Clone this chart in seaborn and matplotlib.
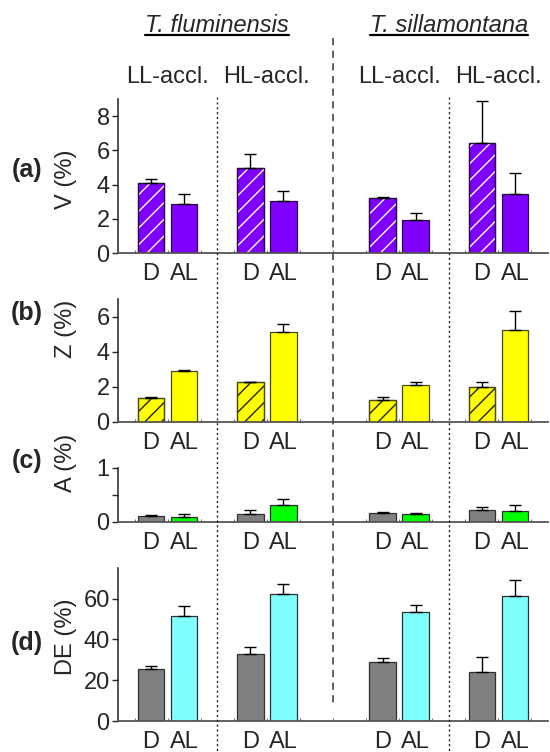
import matplotlib
matplotlib.use("Agg")
import matplotlib.pyplot as plt
from matplotlib.lines import Line2D
from matplotlib.patches import Rectangle
import seaborn as sns
import pandas as pd
import numpy as np

# -----------------------------
# Data
# -----------------------------
positions = [0, 1, 3, 4, 7, 8, 10, 11]
conditions = ["D", "AL", "D", "AL", "D", "AL", "D", "AL"]
species = ["T. fluminensis", "T. sillamontana"]
species_pos = [2, 9]
accl_labels = ["LL-accl.", "HL-accl.", "LL-accl.", "HL-accl."]
accl_pos = [0.5, 3.5, 7.5, 10.5]

v_vals = [4.12, 2.88, 4.94, 3.06, 3.22, 1.94, 6.41, 3.47]
v_errs = [0.23, 0.59, 0.82, 0.59, 0.06, 0.41, 2.47, 1.18]
z_vals = [1.39, 2.90, 2.27, 5.10, 1.26, 2.11, 1.98, 5.26]
z_errs = [0.01, 0.04, 0.02, 0.48, 0.15, 0.19, 0.32, 1.08]
a_vals = [0.107, 0.10, 0.157, 0.31, 0.163, 0.14, 0.22, 0.20]
a_errs = [0.02, 0.05, 0.06, 0.12, 0.03, 0.02, 0.06, 0.11]
de_vals = [25.7, 51.6, 32.6, 62.5, 28.9, 53.4, 23.8, 61.1]
de_errs = [1.2, 5.0, 3.6, 4.5, 2.2, 3.5, 7.7, 8.2]

sns.set_style("ticks")
plt.rcParams["font.family"] = ["Liberation Sans", "DejaVu Sans"]
plt.rcParams["hatch.linewidth"] = 1.0
FS = 17

fig = plt.figure(figsize=(5.5, 7.52), dpi=100)
W, H = 550.0, 752.0
X0, X1 = 118, 548


def make_ax(top, bottom):
    return fig.add_axes([X0 / W, 1 - bottom / H, (X1 - X0) / W, (bottom - top) / H])


def draw_panel(ax, vals, errs, palette, edge, hatch_color, ylim, yticks, yticklabels,
               ylabel, ylabel_y):
    df = pd.DataFrame({"pos": positions, "val": vals, "cond": conditions})
    sns.barplot(data=df, x="pos", y="val", hue="cond", palette=palette,
                native_scale=True, dodge=False, width=0.8, legend=False, saturation=1,
                edgecolor=edge, linewidth=0.9, ax=ax, zorder=2)
    # hatch the D bars
    if hatch_color is not None:
        d_pos = [p for p, c in zip(positions, conditions) if c == "D"]
        for p in list(ax.patches):
            cx = p.get_x() + p.get_width() / 2
            if any(abs(cx - d) < 0.1 for d in d_pos):
                ax.add_patch(Rectangle((p.get_x(), p.get_y()), p.get_width(), p.get_height(),
                                       facecolor="none", edgecolor=hatch_color, hatch="//",
                                       linewidth=0, zorder=2.1))
                ax.add_patch(Rectangle((p.get_x(), p.get_y()), p.get_width(), p.get_height(),
                                       facecolor="none", edgecolor=edge, linewidth=0.9,
                                       zorder=2.2))
    ax.errorbar(positions, vals, yerr=[np.zeros(len(errs)), errs], fmt="none",
                ecolor="black", elinewidth=1.0, capsize=4, capthick=1.0, zorder=3)
    ax.set_xlim(-1, 12)
    ax.set_ylim(*ylim)
    ax.set_yticks(yticks)
    ax.set_yticklabels(yticklabels)
    ax.set_xticks(positions)
    ax.set_xticklabels(conditions)
    ax.set_xticks(np.arange(-0.5, 12, 1), minor=True)
    ax.tick_params(axis="x", which="major", length=0, pad=7, labelsize=FS)
    ax.tick_params(axis="x", which="minor", length=2, direction="in", color="#555555")
    ax.tick_params(axis="y", which="major", length=4, width=1, pad=2, labelsize=FS)
    ax.set_xlabel("")
    ax.set_ylabel(ylabel, fontsize=FS)
    ax.yaxis.set_label_coords(-0.095, ylabel_y)
    for s in ["top", "right"]:
        ax.spines[s].set_visible(False)
    ax.spines["left"].set_color("#222222")
    ax.spines["bottom"].set_color("#555555")
    ax.spines["left"].set_linewidth(1.1)
    ax.spines["bottom"].set_linewidth(1.3)
    ax.set_facecolor("none")


ax_a = make_ax(99, 253)
ax_b = make_ax(299, 422)
ax_c = make_ax(468, 522)
ax_d = make_ax(568, 721)

draw_panel(ax_a, v_vals, v_errs, {"D": "#7F00FF", "AL": "#7F00FF"}, "#2a0a45", "white",
           (0, 9), [0, 2, 4, 6, 8], ["0", "2", "4", "6", "8"], "V (%)", 0.48)
draw_panel(ax_b, z_vals, z_errs, {"D": "#FFFF00", "AL": "#FFFF00"}, "#4a4a10", "#222200",
           (0, 7), [0, 2, 4, 6], ["0", "2", "4", "6"], "Z (%)", 0.756)
draw_panel(ax_c, a_vals, a_errs, {"D": "#808080", "AL": "#00FF00"}, "#303030", None,
           (0, 1), [0, 0.5, 1], ["0", "", "1"], "A (%)", 1.09)
draw_panel(ax_d, de_vals, de_errs, {"D": "#808080", "AL": "#80FFFF"}, "#303030", None,
           (0, 75), [0, 20, 40, 60], ["0", "20", "40", "60"], "DE (%)", 0.55)

# panel letters
for lab, y in zip(["(a)", "(b)", "(c)", "(d)"], [170, 313, 461, 643]):
    fig.text(27 / W, 1 - y / H, lab, fontsize=18, fontweight="bold",
             ha="center", va="center")

# headers
trans = ax_a.get_xaxis_transform()
sp_texts = []
for name, x in zip(species, species_pos):
    sp_texts.append(ax_a.text(x, 1.435, name, transform=trans, fontsize=FS,
                              style="italic", ha="center", va="baseline"))
for name, x in zip(accl_labels, accl_pos):
    ax_a.text(x, 1.104, name, transform=trans, fontsize=FS, ha="center", va="baseline")

fig.canvas.draw()
to_fig = fig.transFigure.inverted()
for t in sp_texts:
    bb = t.get_window_extent()
    (fx0, _), (fx1, _) = to_fig.transform([(bb.x0, bb.y0), (bb.x1, bb.y1)])
    base = to_fig.transform(trans.transform((0, 1.435)))[1]
    fig.add_artist(Line2D([fx0, fx1], [base - 2.5 / H, base - 2.5 / H],
                          transform=fig.transFigure, color="black", lw=1.6))

# separators between groups
for xs, style, col, lw, ytop, ybot in [
    (2, (0, (1.5, 2)), "#222222", 1.0, 97, 752),
    (9, (0, (1.5, 2)), "#222222", 1.0, 97, 752),
    (5.5, (0, (4, 3)), "#555555", 1.3, 38, 704),
]:
    fx = to_fig.transform(ax_a.transData.transform((xs, 0)))[0]
    fig.add_artist(Line2D([fx, fx], [1 - ytop / H, 1 - ybot / H], transform=fig.transFigure,
                          linestyle=style, color=col, lw=lw))

fig.savefig("out.png", dpi=100)
